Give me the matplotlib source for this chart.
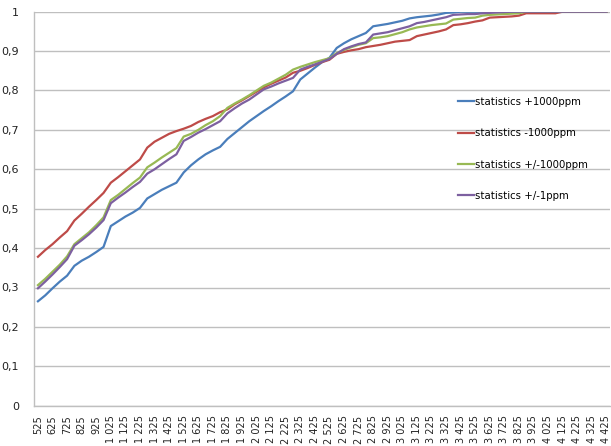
import matplotlib
matplotlib.use("Agg")
import matplotlib.pyplot as plt

# x categories: 525 .. 4425 in steps of 50
sizes = list(range(525, 4426, 50))
tick_labels = ["{:,}".format(v).replace(",", " ") for v in sizes]

plus_1000 = [0.265, 0.28, 0.298, 0.315, 0.330, 0.355, 0.368, 0.378, 0.39, 0.403,
             0.456, 0.468, 0.48, 0.49, 0.502, 0.526, 0.537, 0.548, 0.557, 0.566,
             0.592, 0.61, 0.625, 0.638, 0.648, 0.657, 0.677, 0.692, 0.707, 0.722,
             0.735, 0.748, 0.76, 0.773, 0.785, 0.798, 0.828, 0.843, 0.858, 0.872,
             0.883, 0.908, 0.92, 0.93, 0.938, 0.946, 0.963, 0.966, 0.969, 0.973,
             0.977, 0.983, 0.986, 0.988, 0.99, 0.993, 0.997, 0.998, 1.0, 1.0,
             1.0, 1.0, 1.0, 1.0, 1.0, 1.0, 1.0, 1.0, 1.0, 1.0,
             1.0, 1.0, 1.0, 1.0, 1.0, 1.0, 1.0, 1.0, 1.0]

minus_1000 = [0.378, 0.395, 0.41, 0.427, 0.443, 0.47, 0.487, 0.505, 0.522, 0.54,
              0.566, 0.58, 0.595, 0.61, 0.625, 0.655, 0.67, 0.68, 0.69, 0.697,
              0.703, 0.71, 0.72, 0.728, 0.735, 0.745, 0.752, 0.765, 0.775, 0.786,
              0.797, 0.808, 0.817, 0.825, 0.833, 0.845, 0.85, 0.857, 0.865, 0.872,
              0.878, 0.893, 0.898, 0.902, 0.905, 0.91, 0.913, 0.916, 0.92, 0.924,
              0.926, 0.928, 0.938, 0.942, 0.946, 0.95, 0.955, 0.966, 0.968, 0.971,
              0.975, 0.978, 0.985, 0.986, 0.987, 0.988, 0.99, 0.996, 0.996, 0.996,
              0.996, 0.996, 1.0, 1.0, 1.0, 1.0, 1.0, 1.0, 1.0]

pm_1000 = [0.306, 0.322, 0.34, 0.358, 0.379, 0.41, 0.425, 0.44, 0.458, 0.478,
           0.522, 0.535, 0.55, 0.565, 0.579, 0.605, 0.617, 0.63, 0.642, 0.654,
           0.683, 0.69, 0.7, 0.712, 0.722, 0.735, 0.756, 0.767, 0.777, 0.788,
           0.8, 0.812, 0.82, 0.83, 0.84, 0.853, 0.86, 0.866, 0.872, 0.877,
           0.882, 0.895, 0.903, 0.91, 0.916, 0.92, 0.933, 0.935, 0.938, 0.943,
           0.948, 0.955, 0.96, 0.963, 0.966, 0.968, 0.97, 0.98, 0.982, 0.984,
           0.985, 0.99, 0.992, 0.993, 0.994, 0.995, 0.996, 1.0, 1.0, 1.0,
           1.0, 1.0, 1.0, 1.0, 1.0, 1.0, 1.0, 1.0, 1.0]

pm_1 = [0.298, 0.315, 0.333, 0.352, 0.372, 0.406, 0.42, 0.435, 0.452, 0.471,
        0.514, 0.528, 0.541, 0.555, 0.568, 0.589, 0.6, 0.613, 0.626, 0.638,
        0.672, 0.682, 0.693, 0.702, 0.712, 0.722, 0.742, 0.755, 0.767, 0.777,
        0.79, 0.803, 0.81, 0.818, 0.825, 0.832, 0.853, 0.86, 0.866, 0.873,
        0.88, 0.893, 0.905, 0.912, 0.918, 0.922, 0.942, 0.945, 0.948, 0.953,
        0.958, 0.963, 0.971, 0.974, 0.978, 0.982, 0.986, 0.992, 0.993, 0.994,
        0.994, 0.996, 0.997, 0.998, 0.999, 1.0, 1.0, 1.0, 1.0, 1.0,
        1.0, 1.0, 1.0, 1.0, 1.0, 1.0, 1.0, 1.0, 1.0]

series = [
    ("statistics +1000ppm", plus_1000, "#4a7ebb"),
    ("statistics -1000ppm", minus_1000, "#be4b48"),
    ("statistics +/-1000ppm", pm_1000, "#98b954"),
    ("statistics +/-1ppm", pm_1, "#7d60a0"),
]

fig = plt.figure(figsize=(6.11, 4.46), dpi=100)
ax = fig.add_axes([34.3 / 611, 1 - 405.7 / 446, (610 - 34.3) / 611, 394 / 446])

x = list(range(len(sizes)))
for name, vals, col in series:
    ax.plot(x, vals, color=col, lw=1.6, label=name)

ax.set_xlim(-0.5, len(sizes) - 0.5)
ax.set_ylim(0, 1)
ax.set_yticks([i / 10 for i in range(11)])
ax.set_yticklabels(["0"] + ["0,%d" % i for i in range(1, 10)] + ["1"], fontsize=8)
ax.set_xticks(x[::2])
ax.set_xticklabels(tick_labels[::2], rotation=90, fontsize=7)
ax.tick_params(axis="both", length=0, colors="#222222")
ax.tick_params(axis="y", pad=11)
ax.tick_params(axis="x", pad=7)

ax.grid(axis="y", color="#bfbfbf", lw=1)
ax.set_axisbelow(True)
for side in ["top", "right"]:
    ax.spines[side].set_visible(False)
for side in ["left", "bottom"]:
    ax.spines[side].set_color("#bfbfbf")
    ax.spines[side].set_linewidth(1)

fig.legend(loc="upper left", bbox_to_anchor=(458 / 611, 1 - 97 / 446),
           frameon=False, fontsize=7.3, handlelength=1.6, handletextpad=0.1,
           labelspacing=2.1, borderpad=0, borderaxespad=0)

fig.savefig("out.png", dpi=100)
